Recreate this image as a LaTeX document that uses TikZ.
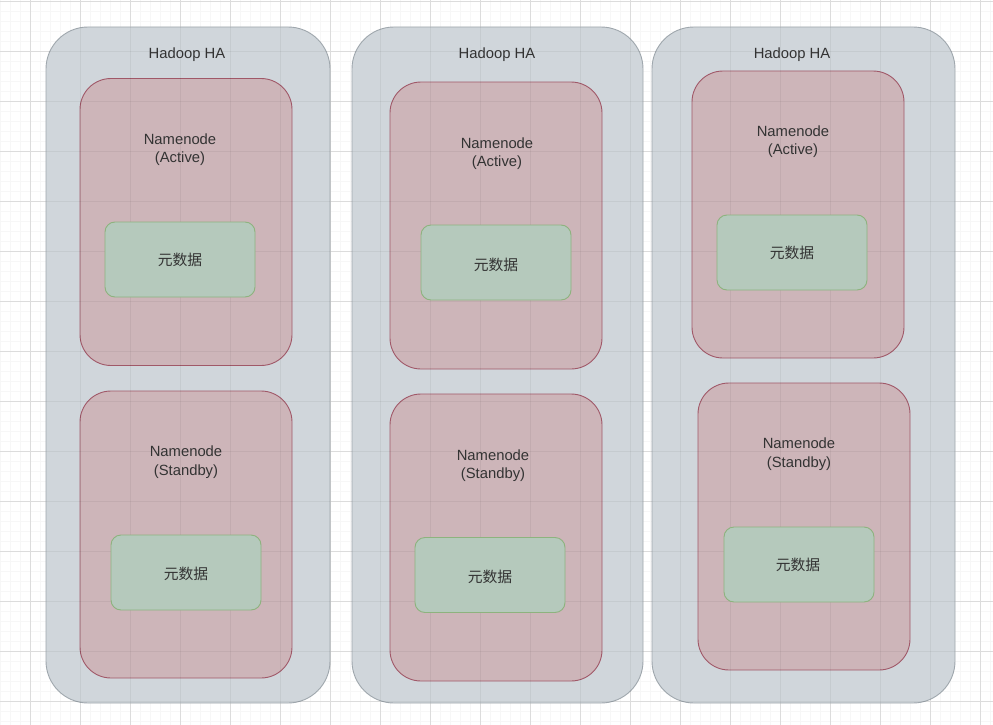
\documentclass[tikz,border=0pt]{standalone}
\usepackage{fontspec}
\setmainfont{Liberation Sans}
\newfontfamily\cjk{Noto Sans CJK SC}
\definecolor{outerfill}{HTML}{D0D6DB}
\definecolor{outerline}{HTML}{9FA7AD}
\definecolor{pinkfill}{HTML}{CDB5B9}
\definecolor{pinkline}{HTML}{A05868}
\definecolor{greenfill}{HTML}{B5C9BC}
\definecolor{greenline}{HTML}{8DB37E}
\definecolor{txt}{HTML}{333333}
\definecolor{minorg}{HTML}{F7F7F7}
\definecolor{majorg}{HTML}{DCDCDC}
\begin{document}
\begin{tikzpicture}[x=1pt,y=-1pt,
  outerbox/.style={draw=outerline, fill=outerfill, line width=0.9pt, rounded corners=42pt, inner sep=0pt},
  nnbox/.style={draw=pinkline, fill=pinkfill, line width=0.9pt, rounded corners=31pt, inner sep=0pt, minimum width=212pt, minimum height=287pt},
  metabox/.style={draw=greenline, fill=greenfill, line width=0.9pt, rounded corners=10pt, inner sep=0pt, minimum width=150pt, minimum height=75pt},
  lbl/.style={text=txt, font=\fontsize{14.8pt}{18.5pt}\selectfont, align=center, inner sep=0pt},
  cjklbl/.style={text=txt, font=\fontsize{14.8pt}{18.5pt}\selectfont\cjk, inner sep=0pt}]
\useasboundingbox (0,0) rectangle (993,725);
\fill[white] (0,0) rectangle (993,725);
\foreach \gx in {0,10,...,990} \draw[minorg, line width=0.6pt] (\gx,0) -- (\gx,725);
\foreach \gy in {1.5,11.5,...,721.5} \draw[minorg, line width=0.6pt] (0,\gy) -- (993,\gy);
\foreach \gx in {30,80,...,980} \draw[majorg, line width=0.7pt] (\gx,0) -- (\gx,725);
\foreach \gy in {1.5,51.5,...,701.5} \draw[majorg, line width=0.7pt] (0,\gy) -- (993,\gy);

% outer containers
\node[outerbox, minimum width=284pt, minimum height=676pt] (o1) at (188,365) {};
\node[outerbox, minimum width=291pt, minimum height=676pt] (o2) at (497.5,365) {};
\node[outerbox, minimum width=303pt, minimum height=676pt] (o3) at (803.5,365) {};
% namenode boxes
\node[nnbox] (a1) at (186,222) {};
\node[nnbox] (s1) at (186,534.5) {};
\node[nnbox] (a2) at (496,225.5) {};
\node[nnbox] (s2) at (496,537.5) {};
\node[nnbox] (a3) at (798,214.5) {};
\node[nnbox] (s3) at (804,526.5) {};
% faint grid showing through the containers
\begin{scope}
  \clip[rounded corners=42pt] (o1.south west) rectangle (o1.north east)
        (o2.south west) rectangle (o2.north east)
        (o3.south west) rectangle (o3.north east);
  \foreach \gx in {80,130,...,930} \draw[black, opacity=0.05, line width=0.7pt] (\gx,27) -- (\gx,703);
  \foreach \gy in {51.5,101.5,...,701.5} \draw[black, opacity=0.05, line width=0.7pt] (46,\gy) -- (955,\gy);
\end{scope}

% column 1
\node[lbl] (t1) at (187,54.5) {Hadoop HA};
\node[lbl] (a1t) at (180,149.5) {Namenode\\(Active)};
\node[metabox] (a1m) at (180,259.5) {};
\node[cjklbl] (a1mt) at (180,260) {元数据};
\node[lbl] (s1t) at (186,462) {Namenode\\(Standby)};
\node[metabox] (s1m) at (186,572.5) {};
\node[cjklbl] (s1mt) at (186,574) {元数据};

% column 2
\node[lbl] (t2) at (497,54.5) {Hadoop HA};
\node[lbl] (a2t) at (497,153.5) {Namenode\\(Active)};
\node[metabox] (a2m) at (496,262.5) {};
\node[cjklbl] (a2mt) at (496,265) {元数据};
\node[lbl] (s2t) at (493,465.5) {Namenode\\(Standby)};
\node[metabox] (s2m) at (490,575) {};
\node[cjklbl] (s2mt) at (490,577) {元数据};

% column 3
\node[lbl] (t3) at (792,54.5) {Hadoop HA};
\node[lbl] (a3t) at (793,141.5) {Namenode\\(Active)};
\node[metabox] (a3m) at (792,252.5) {};
\node[cjklbl] (a3mt) at (792,253) {元数据};
\node[lbl] (s3t) at (799,454) {Namenode\\(Standby)};
\node[metabox] (s3m) at (799,564.5) {};
\node[cjklbl] (s3mt) at (798,565) {元数据};
\end{tikzpicture}
\end{document}
